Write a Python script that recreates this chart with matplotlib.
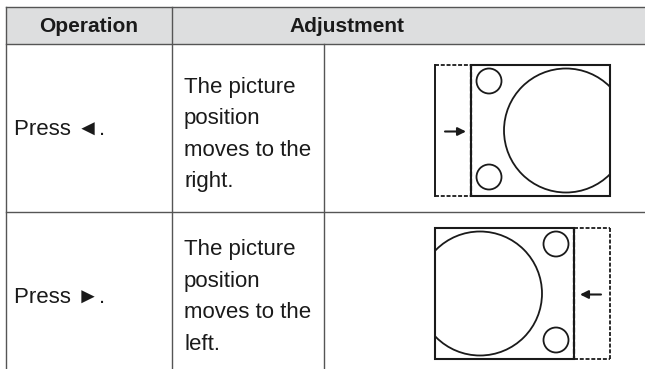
import matplotlib.pyplot as plt
from matplotlib.patches import Rectangle, Circle

plt.rcParams['font.family'] = ['Liberation Sans', 'DejaVu Sans']

# table content
headers = ['Operation', 'Adjustment']
operations = ['Press \u25c4.', 'Press \u25ba.']
descriptions = [['The picture', 'position', 'moves to the', 'right.'],
                ['The picture', 'position', 'moves to the', 'left.']]
shift_side = ['left', 'right']   # where the dashed (moved) strip is

# layout in pixels
W, H = 645, 369
x_left, x_col1, x_col2 = 6, 172, 324
y_top, y_head = 7, 44
row_bounds = [(44, 212), (212, 369)]
press_y = [129, 297]
desc_y0 = [87, 250]
line_col = '#555555'
head_fill = '#dddedf'

fig = plt.figure(figsize=(W / 100, H / 100), dpi=100)
ax = fig.add_axes([0, 0, 1, 1])
ax.set_xlim(0, W)
ax.set_ylim(H, 0)
ax.axis('off')

# header
ax.add_patch(Rectangle((x_left, y_top), W - x_left, y_head - y_top,
                       facecolor=head_fill, edgecolor='none'))
ax.plot([x_left, W], [y_top, y_top], color=line_col, lw=1.0)
ax.plot([x_left, W], [y_head, y_head], color=line_col, lw=1.0)
ax.text((x_left + x_col1) / 2, (y_top + y_head) / 2 + 1, headers[0],
        ha='center', va='center', fontsize=15, fontweight='bold', color='#1a1a1a')
ax.text(347, (y_top + y_head) / 2 + 1, headers[1],
        ha='center', va='center', fontsize=15, fontweight='bold', color='#1a1a1a')

# grid lines
ax.plot([x_left, x_left], [y_top, H], color=line_col, lw=1.0)
ax.plot([x_col1, x_col1], [y_top, H], color=line_col, lw=1.0)
ax.plot([x_col2, x_col2], [y_head, H], color=line_col, lw=1.0)
ax.plot([x_left, W], [row_bounds[1][0], row_bounds[1][0]], color=line_col, lw=1.0)

ink = '#1a1a1a'
dash = (0, (2.2, 1.0))
for i, (y0, y1) in enumerate(row_bounds):
    ax.text(14, press_y[i], operations[i], ha='left', va='center', fontsize=16, color=ink)
    for k, line in enumerate(descriptions[i]):
        ax.text(184, desc_y0[i] + k * 31.5, line, ha='left', va='center',
                fontsize=16, color=ink)

    # picture diagram
    rx0, rx1 = 435, 610
    ry0 = y0 + 21 if i == 0 else y0 + 16
    ry1 = ry0 + 131
    ymid = (ry0 + ry1) / 2
    if shift_side[i] == 'left':
        xd = 471
        ax.plot([rx0, xd], [ry0, ry0], color=ink, lw=1.3, ls=dash)
        ax.plot([rx0, xd], [ry1, ry1], color=ink, lw=1.3, ls=dash)
        ax.plot([rx0, rx0], [ry0, ry1], color=ink, lw=1.4)
        solid = Rectangle((xd, ry0), rx1 - xd, ry1 - ry0, fill=False,
                          edgecolor=ink, lw=1.5)
        small_x = 489
        big = Circle((566, ymid), 62, fill=False, edgecolor=ink, lw=1.3)
        arrow = ((445, ymid + 1), (466, ymid + 1))
    else:
        xd = 574
        ax.plot([xd, rx1], [ry0, ry0], color=ink, lw=1.3, ls=dash)
        ax.plot([xd, rx1], [ry1, ry1], color=ink, lw=1.3, ls=dash)
        ax.plot([rx1, rx1], [ry0, ry1], color=ink, lw=1.3, ls=dash)
        solid = Rectangle((rx0, ry0), xd - rx0, ry1 - ry0, fill=False,
                          edgecolor=ink, lw=1.5)
        small_x = 556
        big = Circle((480, ymid), 62, fill=False, edgecolor=ink, lw=1.3)
        arrow = ((601, ymid + 1), (580, ymid + 1))
    ax.add_patch(solid)
    ax.plot([xd, xd], [ry0, ry1], color=ink, lw=1.6, ls=dash)
    ax.add_patch(big)
    big.set_clip_path(solid)
    for sy in (ry0 + 16, ry1 - 19):
        ax.add_patch(Circle((small_x, sy), 12.5, fill=False, edgecolor=ink, lw=1.3))
    ax.annotate('', xy=arrow[1], xytext=arrow[0],
                arrowprops=dict(arrowstyle='-|>', color=ink, lw=1.5,
                                mutation_scale=12, shrinkA=0, shrinkB=0))

fig.savefig('out.png', dpi=100)
